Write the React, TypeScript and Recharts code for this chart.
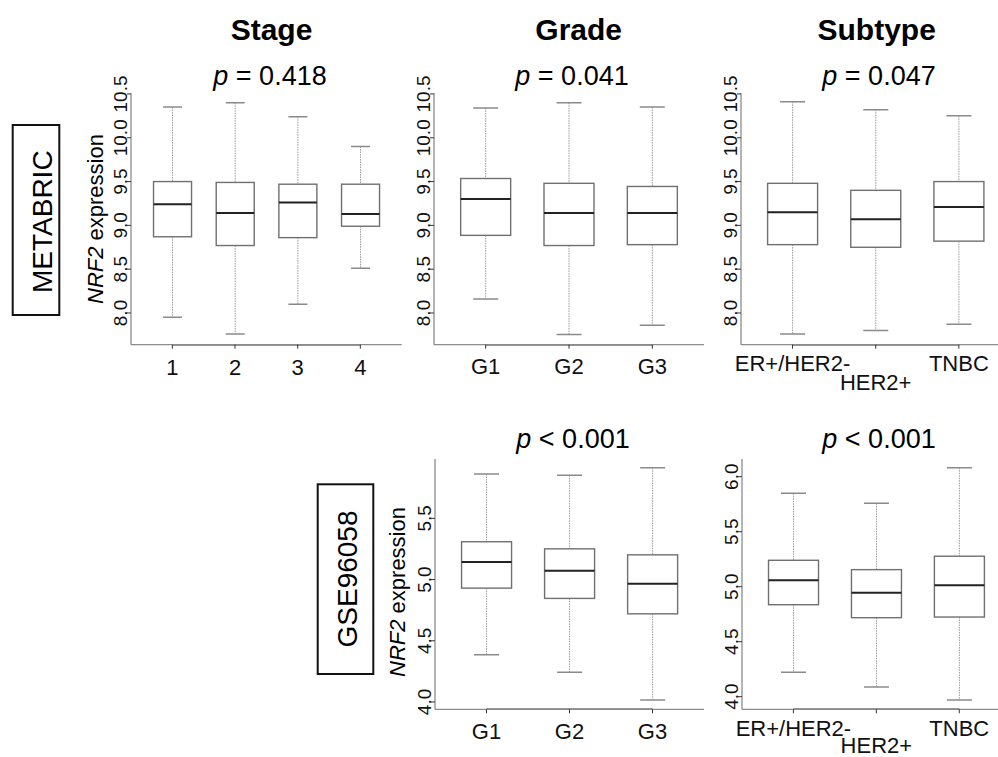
import React from 'react';
import { ComposedChart, Bar, XAxis, YAxis, ReferenceLine } from 'recharts';

const FONT = '"Liberation Sans", Arial, Helvetica, sans-serif';

// ---------- METABRIC: Stage ----------
const stageCats = ['1', '2', '3', '4'];
const stageMin = [7.95, 7.76, 8.1, 8.51];
const stageQ1 = [8.87, 8.77, 8.86, 8.99];
const stageMed = [9.24, 9.14, 9.26, 9.13];
const stageQ3 = [9.5, 9.49, 9.47, 9.47];
const stageMax = [10.35, 10.4, 10.24, 9.9];

// ---------- METABRIC: Grade ----------
const gradeCats = ['G1', 'G2', 'G3'];
const gradeMin = [8.16, 7.755, 7.86];
const gradeQ1 = [8.886, 8.77, 8.78];
const gradeMed = [9.3, 9.14, 9.14];
const gradeQ3 = [9.535, 9.48, 9.444];
const gradeMax = [10.34, 10.4, 10.35];

// ---------- METABRIC: Subtype ----------
const subtypeCats = ['ER+/HER2-', 'HER2+', 'TNBC'];
const subtypeMin = [7.76, 7.8, 7.87];
const subtypeQ1 = [8.78, 8.75, 8.82];
const subtypeMed = [9.15, 9.07, 9.21];
const subtypeQ3 = [9.48, 9.4, 9.5];
const subtypeMax = [10.41, 10.32, 10.25];

// ---------- GSE96058: Grade ----------
const gseGradeMin = [4.385, 4.243, 4.015];
const gseGradeQ1 = [4.93, 4.846, 4.72];
const gseGradeMed = [5.143, 5.072, 4.965];
const gseGradeQ3 = [5.309, 5.251, 5.202];
const gseGradeMax = [5.862, 5.852, 5.914];

// ---------- GSE96058: Subtype ----------
const gseSubMin = [4.222, 4.088, 3.97];
const gseSubQ1 = [4.836, 4.718, 4.724];
const gseSubMed = [5.058, 4.945, 5.013];
const gseSubQ3 = [5.24, 5.155, 5.277];
const gseSubMax = [5.849, 5.758, 6.082];

// ---------- axis ticks ----------
const metabricTicks = [8.0, 8.5, 9.0, 9.5, 10.0, 10.5];
const gseGradeTicks = [4.0, 4.5, 5.0, 5.5];
const gseSubTicks = [4.0, 4.5, 5.0, 5.5, 6.0];

const metabricDomain: [number, number] = [7.638, 10.511];
const gseGradeDomain: [number, number] = [3.94, 5.985];
const gseSubDomain: [number, number] = [3.885, 6.161];

type Row = {
  cat: string;
  range: [number, number];
  min: number;
  q1: number;
  median: number;
  q3: number;
  max: number;
};

function buildRows(cats: string[], mins: number[], q1s: number[], meds: number[], q3s: number[], maxs: number[]): Row[] {
  return cats.map((c, i) => ({
    cat: c,
    range: [mins[i], maxs[i]],
    min: mins[i],
    q1: q1s[i],
    median: meds[i],
    q3: q3s[i],
    max: maxs[i],
  }));
}

const stageRows = buildRows(stageCats, stageMin, stageQ1, stageMed, stageQ3, stageMax);
const gradeRows = buildRows(gradeCats, gradeMin, gradeQ1, gradeMed, gradeQ3, gradeMax);
const subtypeRows = buildRows(subtypeCats, subtypeMin, subtypeQ1, subtypeMed, subtypeQ3, subtypeMax);
const gseGradeRows = buildRows(gradeCats, gseGradeMin, gseGradeQ1, gseGradeMed, gseGradeQ3, gseGradeMax);
const gseSubRows = buildRows(subtypeCats, gseSubMin, gseSubQ1, gseSubMed, gseSubQ3, gseSubMax);

const BoxShape = (props: any) => {
  const { x, y, width, height, payload } = props;
  if (!payload || width == null) return null;
  const top = Math.min(y, y + height);
  const bot = Math.max(y, y + height);
  const { min, q1, median, q3, max } = payload as Row;
  const py = (v: number) => bot - ((v - min) / (max - min)) * (bot - top);
  const cx = x + width / 2;
  const capHalf = width / 4;
  return (
    <g>
      <line x1={cx} x2={cx} y1={py(max)} y2={py(q3)} stroke="#9a9a9a" strokeWidth={1} strokeDasharray="1.5 1" />
      <line x1={cx} x2={cx} y1={py(q1)} y2={py(min)} stroke="#9a9a9a" strokeWidth={1} strokeDasharray="1.5 1" />
      <line x1={cx - capHalf} x2={cx + capHalf} y1={py(max)} y2={py(max)} stroke="#8a8a8a" strokeWidth={1.5} />
      <line x1={cx - capHalf} x2={cx + capHalf} y1={py(min)} y2={py(min)} stroke="#8a8a8a" strokeWidth={1.5} />
      <rect x={x} y={py(q3)} width={width} height={py(q1) - py(q3)} fill="#ffffff" stroke="#707070" strokeWidth={1.4} />
      <line x1={x} x2={x + width} y1={py(median)} y2={py(median)} stroke="#222222" strokeWidth={2} />
    </g>
  );
};

type PanelProps = {
  rows: Row[];
  domain: [number, number];
  ticks: number[];
  left: number;
  top: number;
  width: number;
  height: number;
  labelOffset: number;
  staggerOffset?: number;
};

function Panel({ rows, domain, ticks, left, top, width, height, labelOffset, staggerOffset }: PanelProps) {
  const AXW = 40;
  const MT = 25;
  const MR = 4;
  const XH = 60;
  const chartW = AXW + width + MR;
  const chartH = MT + height + XH;
  const pad = width * 0.037;
  const n = rows.length;
  const frame = '#8c8c8c';
  const dark = '#333333';

  const xTick = (p: any) => {
    const { x, y, payload, index } = p;
    const extra = staggerOffset && index === 1 ? staggerOffset : labelOffset;
    return (
      <text x={x} y={y - 4 + extra} textAnchor="middle" fontSize={22} fontFamily={FONT} fill="#111">
        {payload.value}
      </text>
    );
  };

  const yTick = (p: any) => {
    const { x, y, payload } = p;
    return (
      <text
        x={x}
        y={y}
        transform={`rotate(-90, ${x}, ${y})`}
        textAnchor="middle"
        fontSize={19}
        fontFamily={FONT}
        fill="#111"
      >
        {Number(payload.value).toFixed(1)}
      </text>
    );
  };

  return (
    <div style={{ position: 'absolute', left: left - AXW, top: top - MT }}>
      <ComposedChart
        width={chartW}
        height={chartH}
        data={rows}
        margin={{ top: MT, right: MR, bottom: 0, left: 0 }}
        barCategoryGap="20%"
      >
        <XAxis
          dataKey="cat"
          type="category"
          padding={{ left: pad, right: pad }}
          height={XH}
          axisLine={{ stroke: frame, strokeWidth: 1.3 }}
          tickLine={{ stroke: dark }}
          tickSize={4}
          tickMargin={0}
          interval={0}
          tick={xTick}
        />
        <XAxis
          xAxisId="top"
          orientation="top"
          dataKey="cat"
          type="category"
          padding={{ left: pad, right: pad }}
          height={0}
          axisLine={{ stroke: frame, strokeWidth: 1.3 }}
          tick={false}
          tickLine={false}
        />
        <YAxis
          type="number"
          domain={domain}
          ticks={ticks}
          allowDataOverflow
          width={AXW}
          axisLine={{ stroke: frame, strokeWidth: 1.3 }}
          tickLine={{ stroke: dark }}
          tickSize={4}
          tickMargin={0}
          interval={0}
          tick={yTick}
        />
        <YAxis
          yAxisId="r"
          orientation="right"
          type="number"
          domain={domain}
          allowDataOverflow
          width={0}
          axisLine={{ stroke: frame, strokeWidth: 1.3 }}
          tick={false}
          tickLine={false}
        />
        <ReferenceLine
          segment={[
            { x: rows[0].cat, y: domain[0] },
            { x: rows[n - 1].cat, y: domain[0] },
          ]}
          stroke={dark}
          strokeWidth={1.4}
          ifOverflow="visible"
        />
        <Bar dataKey="range" shape={BoxShape} isAnimationActive={false} />
      </ComposedChart>
    </div>
  );
}

export default function App() {
  return (
    <div
      style={{
        position: 'absolute',
        left: 0,
        top: 0,
        width: 998,
        height: 757,
        overflow: 'hidden',
        background: '#ffffff',
        fontFamily: FONT,
      }}
    >
      <Panel rows={stageRows} domain={metabricDomain} ticks={metabricTicks} left={131} top={93.3} width={270.7} height={251.7} labelOffset={30} />
      <Panel rows={gradeRows} domain={metabricDomain} ticks={metabricTicks} left={434} top={93.3} width={270} height={251.7} labelOffset={29} />
      <Panel rows={subtypeRows} domain={metabricDomain} ticks={metabricTicks} left={741} top={93.3} width={269.4} height={251.7} labelOffset={26} staggerOffset={45} />
      <Panel rows={gseGradeRows} domain={gseGradeDomain} ticks={gseGradeTicks} left={435} top={459} width={269} height={250.3} labelOffset={30} />
      <Panel rows={gseSubRows} domain={gseSubDomain} ticks={gseSubTicks} left={741.7} top={459} width={268.7} height={250.3} labelOffset={27} staggerOffset={44} />

      <svg width={998} height={757} style={{ position: 'absolute', left: 0, top: 0, pointerEvents: 'none' }}>
        <g fontFamily={FONT} fill="#000">
          <text x={271.5} y={40} textAnchor="middle" fontSize={30} fontWeight="bold">Stage</text>
          <text x={578.7} y={40} textAnchor="middle" fontSize={30} fontWeight="bold">Grade</text>
          <text x={876.7} y={40} textAnchor="middle" fontSize={30} fontWeight="bold">Subtype</text>

          <text x={270} y={85} textAnchor="middle" fontSize={27}>
            <tspan fontStyle="italic">p</tspan> = 0.418
          </text>
          <text x={572} y={85} textAnchor="middle" fontSize={27}>
            <tspan fontStyle="italic">p</tspan> = 0.041
          </text>
          <text x={879} y={85} textAnchor="middle" fontSize={27}>
            <tspan fontStyle="italic">p</tspan> = 0.047
          </text>
          <text x={573} y={448.3} textAnchor="middle" fontSize={27}>
            <tspan fontStyle="italic">p</tspan> &lt; 0.001
          </text>
          <text x={879} y={448.3} textAnchor="middle" fontSize={27}>
            <tspan fontStyle="italic">p</tspan> &lt; 0.001
          </text>

          <text x={103.3} y={219} transform="rotate(-90, 103.3, 219)" textAnchor="middle" fontSize={22}>
            <tspan fontStyle="italic">NRF2</tspan> expression
          </text>
          <text x={405} y={592} transform="rotate(-90, 405, 592)" textAnchor="middle" fontSize={22}>
            <tspan fontStyle="italic">NRF2</tspan> expression
          </text>

          <rect x={12.7} y={125} width={46.6} height={190} fill="none" stroke="#111" strokeWidth={2} />
          <text x={51.7} y={221.7} transform="rotate(-90, 51.7, 221.7)" textAnchor="middle" fontSize={28}>METABRIC</text>

          <rect x={317.7} y={484.3} width={55.6} height={189.7} fill="none" stroke="#111" strokeWidth={2} />
          <text x={357} y={579} transform="rotate(-90, 357, 579)" textAnchor="middle" fontSize={28}>GSE96058</text>
        </g>
      </svg>
    </div>
  );
}
